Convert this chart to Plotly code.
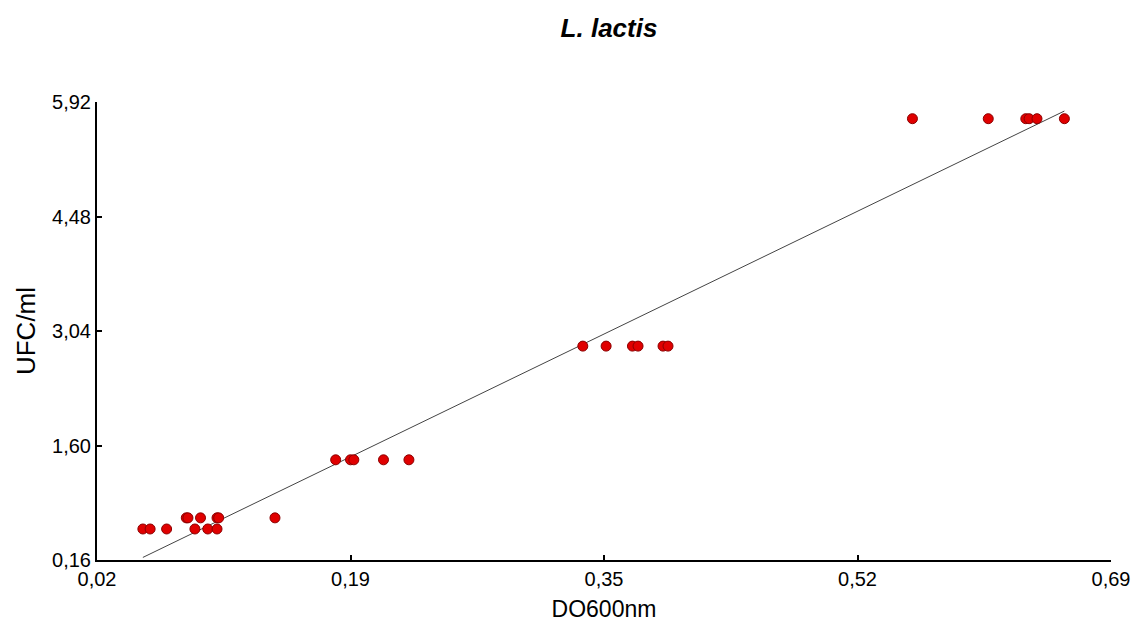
import numpy as np
import plotly.graph_objects as go

# Data (DO600nm vs UFC/ml)
do600 = [0.0503, 0.0551, 0.0660, 0.0790, 0.0801, 0.0847, 0.0884, 0.0932, 0.0993, 0.1004,
         0.0993, 0.1376,
         0.1777, 0.1875, 0.1897, 0.2093, 0.2261,
         0.3410, 0.3564, 0.3738, 0.3775, 0.3940, 0.3973,
         0.5588, 0.6089, 0.6337, 0.6359, 0.6411, 0.6592]
ufc = [0.55, 0.55, 0.55, 0.69, 0.69, 0.55, 0.69, 0.55, 0.69, 0.69,
       0.55, 0.69,
       1.42, 1.42, 1.42, 1.42, 1.42,
       2.85, 2.85, 2.85, 2.85, 2.85, 2.85,
       5.71, 5.71, 5.71, 5.71, 5.71, 5.71]

x_ticks = [0.02, 0.1875, 0.355, 0.5225, 0.69]
x_tick_labels = ["0,02", "0,19", "0,35", "0,52", "0,69"]
y_ticks = [0.16, 1.60, 3.04, 4.48, 5.92]
y_tick_labels = ["0,16", "1,60", "3,04", "4,48", "5,92"]

# Linear regression fit
slope, intercept = np.polyfit(do600, ufc, 1)
fit_x = [min(do600), max(do600)]
fit_y = [slope * v + intercept for v in fit_x]

fig = go.Figure()
fig.add_trace(go.Scatter(x=fit_x, y=fit_y, mode="lines",
                         line=dict(color="#444444", width=1), showlegend=False,
                         hoverinfo="skip", cliponaxis=False))
fig.add_trace(go.Scatter(x=do600, y=ufc, mode="markers",
                         marker=dict(size=10, color="#e00000",
                                     line=dict(color="#8b0000", width=1)),
                         showlegend=False, cliponaxis=False))

font_family = "Liberation Sans, Arial, sans-serif"
fig.update_layout(
    width=1134, height=625,
    margin=dict(l=89, r=21, t=94, b=73),
    paper_bgcolor="white", plot_bgcolor="white",
    font=dict(family=font_family, color="black", size=20),
    title=dict(text="<b><i>L. lactis</i></b>", x=0.530, xanchor="center",
               y=0.968, yanchor="middle", font=dict(size=26, family=font_family)),
    xaxis=dict(range=[0.02, 0.69], tickvals=x_ticks, ticktext=x_tick_labels,
               showgrid=False, zeroline=False, showline=True, linecolor="black",
               linewidth=2, ticks="inside", ticklen=5, tickwidth=1.5, tickcolor="black",
               tickfont=dict(size=20),
               title=dict(text="DO600nm", font=dict(size=23), standoff=12)),
    yaxis=dict(range=[0.16, 5.92], tickvals=y_ticks, ticktext=y_tick_labels,
               showgrid=False, zeroline=False, showline=True, linecolor="black",
               linewidth=2, ticks="inside", ticklen=5, tickwidth=1.5, tickcolor="black",
               tickfont=dict(size=20),
               title=dict(text="UFC/ml", font=dict(size=26), standoff=9)),
)

fig.write_html("out.html")
